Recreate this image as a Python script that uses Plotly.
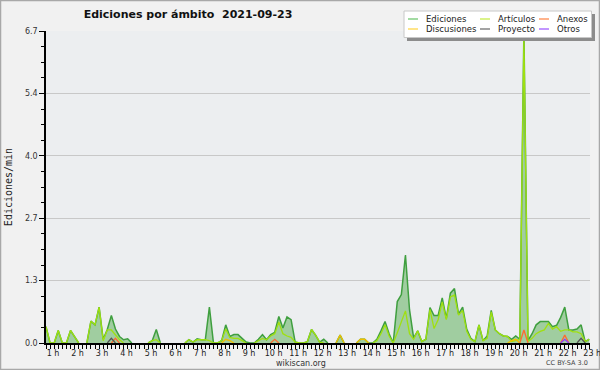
import plotly.graph_objects as go

# ---------------- data (10-minute samples starting at 1 h) ----------------
hour_labels = [f"{h} h" for h in range(1, 24)]
hour_ticks = list(range(1, 24))

ediciones = [
    0.35, 0, 0, 0.27, 0, 0,
    0.27, 0.13, 0, 0, 0, 0.47,
    0.39, 0.77, 0.08, 0.29, 0.59, 0.30,
    0.14, 0.07, 0.09, 0, 0, 0,
    0, 0, 0.05, 0.29, 0, 0,
    0, 0, 0, 0, 0, 0.07,
    0.02, 0.09, 0.07, 0.07, 0.77, 0,
    0, 0.05, 0.39, 0.14, 0.18, 0.18,
    0.10, 0.02, 0, 0, 0.08, 0.18,
    0.07, 0.18, 0.23, 0.57, 0.32, 0.56,
    0.50, 0.02, 0, 0, 0.03, 0.29,
    0.17, 0.02, 0.08, 0, 0, 0,
    0.17, 0, 0, 0, 0, 0.08,
    0.08, 0, 0, 0.08, 0.26, 0.46,
    0.20, 0, 0.89, 1.04, 1.89, 0.71,
    0.11, 0.26, 0.03, 0.08, 0.76, 0.59,
    0.59, 0.97, 0.53, 1.07, 1.17, 0.62,
    0.77, 0.30, 0.10, 0.03, 0.39, 0.05,
    0.15, 0.70, 0.28, 0.20, 0.15, 0.14,
    0.08, 0.15, 0.08, 6.70, 0.05, 0.20,
    0.39, 0.46, 0.46, 0.46, 0.35, 0.38,
    0.55, 0.77, 0.28, 0.28, 0.30, 0.39,
    0.03, 0.08,
]
articulos = [
    0.35, 0, 0, 0.27, 0, 0,
    0.27, 0.12, 0, 0, 0, 0.47,
    0.39, 0.77, 0.05, 0.28, 0.28, 0.17,
    0.07, 0, 0, 0, 0, 0,
    0, 0, 0.05, 0.07, 0, 0,
    0, 0, 0, 0, 0, 0.07,
    0.02, 0.07, 0.07, 0.07, 0.05, 0,
    0, 0.05, 0.30, 0.12, 0.10, 0.10,
    0.05, 0, 0, 0, 0.05, 0.10,
    0.07, 0.15, 0.20, 0.45, 0.20, 0.15,
    0.12, 0.02, 0, 0, 0.03, 0.29,
    0.17, 0.02, 0, 0, 0, 0,
    0, 0, 0, 0, 0, 0,
    0, 0, 0, 0.05, 0.20, 0.39,
    0.15, 0, 0.22, 0.45, 0.69, 0.20,
    0.08, 0.26, 0.03, 0.08, 0.72, 0.31,
    0.50, 0.88, 0.50, 0.99, 1.03, 0.60,
    0.70, 0.25, 0.08, 0.03, 0.39, 0.05,
    0.10, 0.67, 0.28, 0.20, 0.15, 0.14,
    0.03, 0.05, 0.08, 6.55, 0.03, 0.10,
    0.20, 0.25, 0.28, 0.42, 0.30, 0.35,
    0.25, 0.28, 0.28, 0.24, 0.24, 0.20,
    0.03, 0.08,
]
discusiones = [
    0, 0, 0, 0, 0, 0,
    0, 0, 0, 0, 0, 0,
    0, 0, 0, 0, 0, 0,
    0, 0, 0, 0, 0, 0,
    0, 0, 0, 0, 0, 0,
    0, 0, 0, 0, 0, 0,
    0, 0, 0, 0, 0, 0,
    0, 0, 0.08, 0.05, 0, 0,
    0, 0, 0, 0, 0, 0,
    0, 0, 0, 0, 0, 0,
    0, 0, 0, 0, 0, 0,
    0, 0, 0, 0, 0, 0,
    0.17, 0, 0, 0, 0, 0.08,
    0.08, 0, 0, 0, 0, 0,
    0, 0, 0, 0, 0, 0,
    0, 0, 0, 0, 0, 0,
    0, 0, 0, 0, 0, 0,
    0, 0, 0, 0, 0, 0,
    0, 0, 0, 0, 0, 0,
    0.05, 0.08, 0, 0, 0, 0,
    0, 0, 0, 0, 0, 0,
    0, 0, 0, 0, 0, 0,
    0, 0,
]
anexos = [
    0, 0, 0, 0, 0, 0,
    0, 0, 0, 0, 0, 0,
    0, 0, 0, 0, 0, 0.10,
    0, 0, 0, 0, 0, 0,
    0, 0, 0, 0, 0, 0,
    0, 0, 0, 0, 0, 0,
    0, 0, 0, 0, 0, 0,
    0, 0, 0, 0, 0, 0,
    0, 0, 0, 0, 0, 0,
    0, 0, 0.08, 0, 0, 0,
    0, 0, 0, 0, 0, 0,
    0, 0, 0, 0, 0, 0,
    0, 0, 0, 0, 0, 0,
    0, 0, 0, 0, 0, 0,
    0, 0, 0, 0, 0, 0,
    0, 0, 0, 0, 0, 0,
    0, 0, 0, 0, 0, 0,
    0, 0, 0, 0, 0, 0,
    0, 0, 0, 0, 0, 0,
    0, 0, 0, 0.28, 0, 0,
    0, 0, 0, 0, 0, 0,
    0, 0.17, 0, 0, 0, 0,
    0, 0,
]
proyecto = [
    0, 0, 0, 0, 0, 0,
    0, 0, 0, 0, 0, 0,
    0, 0, 0, 0, 0.10, 0,
    0, 0, 0, 0, 0, 0,
    0, 0, 0, 0, 0, 0,
    0, 0, 0, 0, 0, 0,
    0, 0, 0, 0, 0, 0,
    0, 0, 0, 0, 0, 0,
    0, 0, 0, 0, 0, 0,
    0, 0, 0, 0, 0, 0,
    0, 0, 0, 0, 0, 0,
    0, 0, 0, 0, 0, 0,
    0, 0, 0, 0, 0, 0,
    0, 0, 0, 0, 0, 0,
    0, 0, 0, 0, 0, 0,
    0, 0, 0, 0, 0, 0,
    0, 0, 0, 0, 0, 0,
    0, 0, 0, 0, 0, 0,
    0, 0, 0, 0, 0, 0,
    0, 0, 0, 0, 0, 0,
    0, 0, 0, 0, 0, 0,
    0, 0, 0, 0, 0, 0.10,
    0, 0,
]
otros = [
    0, 0, 0, 0, 0, 0,
    0, 0, 0, 0, 0, 0,
    0, 0, 0, 0, 0, 0,
    0, 0, 0, 0, 0, 0,
    0, 0, 0, 0, 0, 0,
    0, 0, 0, 0, 0, 0,
    0, 0, 0, 0, 0, 0,
    0, 0, 0, 0, 0, 0,
    0, 0, 0, 0, 0, 0,
    0, 0, 0, 0, 0, 0,
    0, 0, 0, 0, 0, 0,
    0, 0, 0, 0, 0, 0,
    0, 0, 0, 0, 0, 0,
    0, 0, 0, 0, 0, 0,
    0, 0, 0, 0, 0, 0,
    0, 0, 0, 0, 0, 0,
    0, 0, 0, 0, 0, 0,
    0, 0, 0, 0, 0, 0,
    0, 0, 0, 0, 0, 0,
    0, 0, 0, 0, 0, 0,
    0, 0, 0, 0, 0, 0,
    0, 0.08, 0, 0, 0, 0,
    0, 0,
]

y_tickvals = [0, 1.34, 2.68, 4.02, 5.36, 6.7]
y_ticktext = ["0.0", "1.3", "2.7", "4.0", "5.4", "6.7"]

series_names = ["Ediciones", "Artículos", "Anexos", "Discusiones", "Proyecto", "Otros"]
series_data = [ediciones, articulos, anexos, discusiones, proyecto, otros]
series_colors = ["#3f9f3f", "#9fe010", "#ff6a30", "#f0c000", "#555555", "#8c3cff"]
legend_colors = ["#66c466", "#c4ec3c", "#ff8040", "#ffd43c", "#666666", "#9a50ff"]

# time axis in hours (one sample every 10 minutes from 1 h)
times = [1 + k / 6 for k in range(len(ediciones))]


def hide_flat_zeros(vals):
    """Blank out zero samples whose neighbours are zero too (no line on the baseline)."""
    out = []
    n = len(vals)
    for k, v in enumerate(vals):
        prev_v = vals[k - 1] if k > 0 else 0
        next_v = vals[k + 1] if k < n - 1 else 0
        out.append(None if (v == 0 and prev_v == 0 and next_v == 0) else v)
    return out


# ---------------- layout geometry ----------------
W, H = 600, 370
L, R, T, B = 46, 10, 31, 27
PW, PH = W - L - R, H - T - B


def px(X):
    return (X - L) / PW


def py(Y):
    return (H - B - Y) / PH


fig = go.Figure()

# draw order: Ediciones (filled), Artículos, then the small series on top
draw_order = [0, 1, 3, 2, 4, 5]
for k in draw_order:
    tr = dict(
        x=times, y=hide_flat_zeros(series_data[k]), mode="lines", name=series_names[k],
        line=dict(color=series_colors[k], width=1.3), showlegend=False,
        hoverinfo="skip", connectgaps=False,
    )
    if k == 0:
        tr["fill"] = "tozeroy"
        tr["fillcolor"] = "#a0cda0"
        tr["line"]["width"] = 1.5
    fig.add_trace(go.Scatter(**tr))

shapes = []
annotations = []

# outer border
shapes.append(dict(type="rect", xref="paper", yref="paper",
                   x0=px(0.5), x1=px(599.5), y0=py(369.5), y1=py(0.5),
                   line=dict(color="#a8a8a8", width=1.5), fillcolor="rgba(0,0,0,0)",
                   layer="below"))

# legend box with shadow
shapes.append(dict(type="rect", xref="paper", yref="paper",
                   x0=px(407), x1=px(595), y0=py(41), y1=py(14),
                   line=dict(width=0), fillcolor="#8c8c8c", layer="above"))
shapes.append(dict(type="rect", xref="paper", yref="paper",
                   x0=px(404), x1=px(591.5), y0=py(37.5), y1=py(11),
                   line=dict(color="#c8c8c8", width=1), fillcolor="#ffffff", layer="above"))

legend_layout = [  # (line x start, text x, row y)
    (408, 424, 19), (480, 496, 19), (539, 555, 19),
    (408, 424, 29), (480, 496, 29), (539, 555, 29),
]
legend_order = [0, 1, 2, 3, 4, 5]
for slot, k in zip(legend_layout, legend_order):
    lx, tx, ry = slot
    shapes.append(dict(type="line", xref="paper", yref="paper",
                       x0=px(lx), x1=px(lx + 10), y0=py(ry), y1=py(ry),
                       line=dict(color=legend_colors[k], width=1.2), layer="above"))
    annotations.append(dict(text=series_names[k], xref="paper", yref="paper",
                            x=px(tx), y=py(ry), xanchor="left", yanchor="middle",
                            showarrow=False,
                            font=dict(family="DejaVu Sans", size=8.5, color="#222222")))

annotations.append(dict(text="wikiscan.org", xref="paper", yref="paper",
                        x=px(301), y=py(363), xanchor="center", yanchor="middle",
                        showarrow=False,
                        font=dict(family="DejaVu Sans", size=8, color="#333333")))
annotations.append(dict(text="CC BY-SA 3.0", xref="paper", yref="paper",
                        x=px(590), y=py(363), xanchor="right", yanchor="middle",
                        showarrow=False,
                        font=dict(family="DejaVu Sans", size=6.5, color="#444444")))

fig.update_layout(
    width=W, height=H,
    margin=dict(l=L, r=R, t=T, b=B, pad=0, autoexpand=False),
    paper_bgcolor="#f1f1f1",
    plot_bgcolor="#eceef0",
    title=dict(text="<b>Ediciones por ámbito  2021-09-23</b>",
               x=188 / W, xanchor="center", y=1 - 14 / H, yanchor="middle",
               font=dict(family="DejaVu Sans", size=11, color="#111111")),
    shapes=shapes,
    annotations=annotations,
    showlegend=False,
    xaxis=dict(
        range=[1, times[-1] + 0.03],
        automargin=False,
        tickvals=hour_ticks, ticktext=hour_labels,
        ticks="outside", ticklen=4, tickwidth=1, tickcolor="#000000",
        showline=True, linecolor="#000000", linewidth=2,
        showgrid=False, zeroline=False,
        ticklabelshift=7, ticklabelstandoff=-3,
        ticklabeloverflow="allow",
        tickfont=dict(family="DejaVu Sans", size=8, color="#222222"),
        minor=dict(dtick=1 / 6, tick0=1, ticks="outside", ticklen=4,
                   tickwidth=1, tickcolor="#000000", showgrid=False),
        fixedrange=True,
    ),
    yaxis=dict(
        range=[0, 6.7],
        automargin=False,
        tickvals=y_tickvals, ticktext=y_ticktext,
        ticks="outside", ticklen=5, tickwidth=1, tickcolor="#000000",
        showline=True, linecolor="#000000", linewidth=1.5,
        showgrid=True, gridcolor="#c8c8c8", gridwidth=1,
        zeroline=False,
        tickfont=dict(family="DejaVu Sans", size=8, color="#333333"),
        title=dict(text="Ediciones/min", standoff=10,
                   font=dict(family="DejaVu Sans Mono", size=10, color="#222222")),
        minor=dict(dtick=0.335, tick0=0, ticks="outside", ticklen=3,
                   tickwidth=1, tickcolor="#000000", showgrid=False),
        fixedrange=True,
    ),
)

fig.write_html("out.html")
